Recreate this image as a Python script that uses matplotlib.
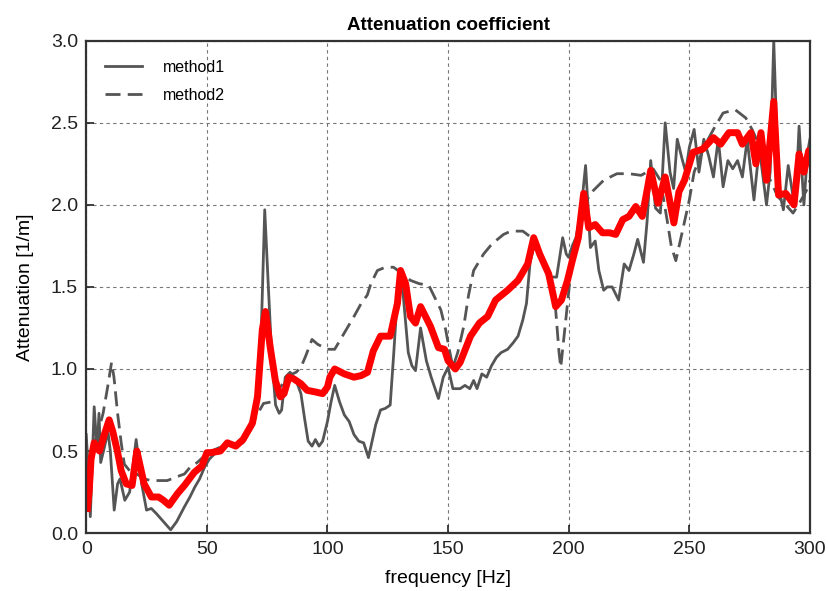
import matplotlib
matplotlib.use("Agg")
import matplotlib.pyplot as plt

# ---- data ----
f_m1 = [0, 1, 1.7, 3.3, 4.5, 5.3, 6, 7.5, 9, 10, 11.6, 13, 14, 16, 18, 20.7, 23, 25, 27, 29, 32, 35, 37.5,
        40.7, 43, 45, 47, 49, 51, 53, 56, 59, 62, 65, 67, 69, 71, 72.5, 74, 75.5, 77, 78.5, 80, 81, 82.5,
        84.5, 87, 89, 90.5, 92, 93.6, 95, 96.5, 98, 100, 101.5, 103, 105, 107, 109, 111, 113, 115, 117,
        118.5, 120, 122, 124, 126, 127.5, 129, 130.5, 132, 133.5, 135, 136.5, 138.6, 141, 143, 146, 148,
        150, 152, 155, 157, 159, 160.6, 162, 164, 166, 168, 170, 172, 174.7, 177, 179, 181, 182.5, 184,
        186.3, 188, 191, 193, 195, 197.5, 199, 200, 201.5, 203, 205, 207, 209, 211, 212.5, 214.5, 216,
        218, 220.7, 223, 225, 227, 228.6, 231, 232.5, 234, 236, 238, 240, 242, 243.5, 245, 247, 248.5,
        250, 252, 254, 256, 258, 260, 262, 264, 266, 268, 270, 272, 274, 276.8, 279, 282, 283.5, 285,
        287, 289, 291, 293, 294, 295.5, 297.5, 299, 300]
v_m1 = [0.6, 0.35, 0.1, 0.77, 0.5, 0.73, 0.43, 0.52, 0.62, 0.5, 0.14, 0.3, 0.33, 0.2, 0.25, 0.57, 0.3, 0.14,
        0.15, 0.12, 0.07, 0.02, 0.07, 0.16, 0.22, 0.28, 0.33, 0.4, 0.45, 0.48, 0.52, 0.55, 0.53, 0.55, 0.6,
        0.65, 0.78, 1.2, 1.97, 1.5, 1.05, 0.78, 0.73, 0.75, 0.95, 0.98, 0.93, 0.85, 0.7, 0.56, 0.53, 0.57,
        0.53, 0.56, 0.68, 0.8, 0.9, 0.8, 0.72, 0.68, 0.6, 0.56, 0.55, 0.46, 0.56, 0.66, 0.75, 0.76, 0.78,
        1.1, 1.45, 1.6, 1.35, 1.1, 1.02, 0.99, 1.25, 1.05, 0.95, 0.82, 0.95, 1.01, 0.88, 0.88, 0.9, 0.88,
        0.93, 0.88, 0.97, 0.95, 1.02, 1.07, 1.1, 1.12, 1.16, 1.2, 1.3, 1.4, 1.65, 1.79, 1.72, 1.6, 1.56,
        1.56, 1.8, 1.7, 1.68, 1.75, 1.8, 1.95, 2.24, 1.74, 1.78, 1.6, 1.48, 1.5, 1.5, 1.42, 1.64, 1.6, 1.7,
        1.79, 1.65, 1.9, 2.27, 1.98, 1.95, 2.5, 2.2, 2.1, 2.4, 2.28, 2.2, 2.35, 2.46, 2.2, 2.4, 2.3, 2.17,
        2.4, 2.11, 2.27, 2.22, 2.27, 2.17, 2.4, 2.03, 2.35, 2.0, 2.2, 3.0, 2.1, 1.97, 2.24, 2.05, 2.0,
        2.48, 2.0, 2.32, 2.4]

f_m2 = [0, 1, 3, 5, 7, 9, 10.5, 11.5, 13, 14.5, 15.8, 18, 21, 24, 27, 30, 33.6, 37, 40.7, 43, 46, 49, 52,
        55, 58, 62, 65, 68, 70, 73.5, 77, 80.5, 84, 87, 89, 91, 93.6, 96, 100, 103, 107, 111, 114, 116.5,
        118, 120.7, 124, 127.4, 131, 134.4, 138, 142, 145, 147, 149, 150.5, 152, 154, 156.5, 158.5, 160.6,
        164.7, 167.5, 170.5, 173, 176, 181, 185.5, 188, 191, 193, 194.6, 196, 196.7, 198.8, 200.5, 202.5,
        205, 209, 214.5, 220, 225, 230, 235, 238, 241, 242.5, 244.4, 247.3, 250, 252, 256, 260, 264, 269,
        273.4, 276, 279.7, 282, 286.7, 290, 293, 296, 299, 300]
v_m2 = [0.45, 0.3, 0.53, 0.62, 0.73, 0.9, 1.04, 0.95, 0.73, 0.55, 0.42, 0.38, 0.36, 0.33, 0.32, 0.32, 0.32,
        0.34, 0.36, 0.4, 0.43, 0.47, 0.5, 0.52, 0.53, 0.53, 0.57, 0.65, 0.7, 0.79, 0.8, 0.89, 0.96, 0.98,
        1.01, 1.08, 1.18, 1.15, 1.12, 1.12, 1.22, 1.32, 1.4, 1.45, 1.52, 1.6, 1.62, 1.62, 1.58, 1.54, 1.52,
        1.51, 1.42, 1.36, 1.24, 1.12, 1.01, 1.1, 1.26, 1.45, 1.6, 1.7, 1.75, 1.79, 1.82, 1.84, 1.84, 1.79,
        1.72, 1.6, 1.5, 1.36, 1.1, 1.01, 1.3, 1.54, 1.75, 1.95, 2.07, 2.15, 2.19, 2.19, 2.18, 2.22, 2.15,
        1.89, 1.75, 1.66, 1.85, 2.03, 2.2, 2.35, 2.46, 2.56, 2.58, 2.53, 2.46, 2.34, 2.2, 2.05, 2.0, 1.95,
        2.02, 2.1, 2.15]

f_avg = [0.5, 1.2, 2, 3.3, 5.5, 7.5, 9.5, 11, 12.9, 14.5, 16.6, 19, 21, 22.5, 24, 27, 30, 32, 34.4, 37.8,
         40.7, 44.8, 48, 50, 51.5, 55.6, 58.5, 62, 65, 68.9, 71, 73, 74.3, 76.3, 78.4, 80.5, 82, 84, 86, 89,
         91.6, 95, 98, 100, 101, 103, 107, 111, 114, 116.6, 119, 122, 126, 129, 130.3, 132.4, 134.4, 136.5,
         138.6, 142.7, 146, 148.5, 150, 153, 155, 159.3, 163, 166.4, 169.7, 174.7, 179, 183, 185.5, 188,
         191.7, 194.6, 197, 199.5, 201.5, 204, 206.2, 208.3, 211, 214, 217, 219.5, 222.4, 225, 227.8,
         230.5, 232, 234, 237, 240, 243.6, 245.7, 248, 251.5, 255.6, 260, 263, 266.4, 270, 272, 275.5,
         277.6, 279.7, 282, 285, 287, 290, 293.4, 295.5, 297.5, 299.5, 300]
v_avg = [0.15, 0.25, 0.45, 0.55, 0.5, 0.6, 0.69, 0.62, 0.5, 0.38, 0.3, 0.29, 0.5, 0.4, 0.3, 0.22, 0.22, 0.2,
         0.17, 0.24, 0.29, 0.37, 0.41, 0.49, 0.49, 0.5, 0.55, 0.53, 0.57, 0.67, 0.83, 1.24, 1.35, 1.13, 0.93,
         0.83, 0.85, 0.95, 0.94, 0.91, 0.87, 0.86, 0.85, 0.89, 0.95, 1.0, 0.97, 0.95, 0.96, 0.98, 1.11, 1.2,
         1.2, 1.4, 1.6, 1.52, 1.32, 1.28, 1.38, 1.26, 1.13, 1.12, 1.05, 1.0, 1.04, 1.2, 1.28, 1.32, 1.42,
         1.48, 1.54, 1.64, 1.8, 1.7, 1.58, 1.38, 1.42, 1.54, 1.66, 1.8, 2.07, 1.86, 1.88, 1.83, 1.83, 1.82,
         1.91, 1.93, 1.99, 1.93, 2.05, 2.21, 2.01, 2.17, 1.89, 2.08, 2.15, 2.32, 2.34, 2.41, 2.37, 2.44,
         2.44, 2.37, 2.44, 2.25, 2.44, 2.15, 2.63, 2.06, 2.07, 2.0, 2.31, 2.2, 2.33, 2.3]

xticks = [0, 50, 100, 150, 200, 250, 300]
yticks = [0.0, 0.5, 1.0, 1.5, 2.0, 2.5, 3.0]

plt.rcParams['font.family'] = ['Liberation Sans', 'DejaVu Sans']

fig = plt.figure(figsize=(8.29, 5.91), dpi=100)
ax = fig.add_axes([0.104, 0.098, 0.873, 0.833])

gray = '#555555'
ax.plot(f_m1, v_m1, color=gray, lw=2.0, label='method1')
ax.plot(f_m2, v_m2, color=gray, lw=2.0, ls=(0, (5.4, 2.6)), label='method2')
ax.plot(f_avg, v_avg, color='#ff0000', lw=5)

ax.set_xlim(0, 300)
ax.set_ylim(0, 3.0)
ax.set_xticks(xticks)
ax.set_yticks(yticks)
ax.set_yticklabels([f"{t:.1f}" for t in yticks])
ax.grid(True, color='#777777', ls=(0, (3, 3)), lw=0.8)
ax.set_axisbelow(True)
ax.tick_params(direction='in', length=6, width=1.2, labelsize=14, colors='#222222',
               top=False, right=False, pad=6)
for s in ax.spines.values():
    s.set_color('#333333')
    s.set_linewidth(1.6)

ax.set_title('Attenuation coefficient', fontsize=13.5, fontweight='bold', pad=8)
ax.set_xlabel('frequency [Hz]', fontsize=14, labelpad=8)
ax.set_ylabel('Attenuation [1/m]', fontsize=14, labelpad=12)
leg = ax.legend(loc='upper left', frameon=False, fontsize=11.5, handlelength=2.3,
                borderaxespad=0.8, labelspacing=0.8, handletextpad=1.3)

fig.savefig('out.png', dpi=100)
